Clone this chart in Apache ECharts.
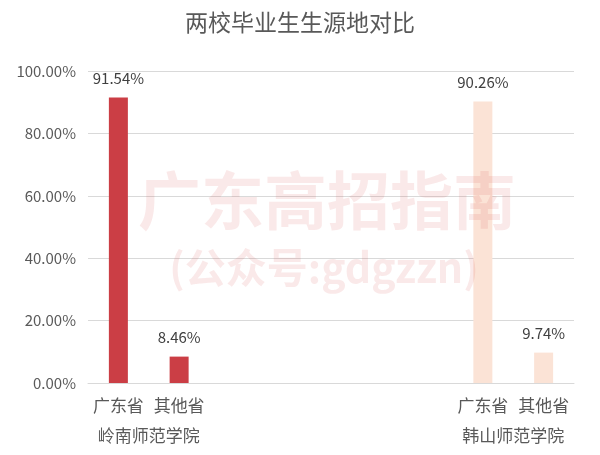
<!DOCTYPE html>
<html><head><meta charset="utf-8">
<script src="https://cdn.jsdelivr.net/npm/echarts@6/dist/echarts.min.js"></script>
<style>html,body{margin:0;padding:0;background:#fff}#c{width:600px;height:455px}</style>
</head><body><div id="c"></div>
<script>
const title = '两校毕业生生源地对比';
const categories = ['广东省', '其他省', '', '', '', '', '广东省', '其他省'];
const schools = ['岭南师范学院', '', '', '韩山师范学院'];
const lingnanValues = [91.54, 8.46, null, null, null, null, null, null];
const hanshanValues = [null, null, null, null, null, null, 90.26, 9.74];
const yTicks = [0, 20, 40, 60, 80, 100];
const watermark1 = '广东高招指南';
const watermark2 = '(公众号:gdgzzn)';

const font = '"Noto Sans CJK SC", "Noto Sans", sans-serif';
const chart = echarts.init(document.getElementById('c'));
const labelCfg = {
  show: true, position: 'top', distance: 12, color: '#404040', fontSize: 15, fontFamily: font,
  formatter: p => p.value == null ? '' : p.value.toFixed(2) + '%'
};
chart.setOption({
  animation: false,
  title: { text: title, left: 'center', top: 6, textStyle: { fontFamily: font, fontSize: 23, fontWeight: 'normal', color: '#595959' } },
  grid: { left: 88, right: 26, top: 71, bottom: 72 },
  xAxis: [
    { type: 'category', data: categories, axisLine: { lineStyle: { color: '#D9D9D9' } }, axisTick: { show: false },
      axisLabel: { interval: 0, color: '#595959', fontSize: 17, fontFamily: font, margin: 14 } },
    { type: 'category', data: schools, position: 'bottom', offset: 0, axisLine: { show: false }, axisTick: { show: false },
      axisLabel: { interval: 0, color: '#595959', fontSize: 17, fontFamily: font, margin: 44 } }
  ],
  yAxis: { type: 'value', min: yTicks[0], max: yTicks[yTicks.length - 1], interval: 20,
    axisLabel: { formatter: v => v.toFixed(2) + '%', color: '#595959', fontSize: 15, fontFamily: font, margin: 12 },
    splitLine: { lineStyle: { color: '#D9D9D9' } }, axisLine: { show: false }, axisTick: { show: false } },
  series: [
    { type: 'bar', name: '岭南师范学院', data: lingnanValues, barWidth: 19, barGap: '-100%', itemStyle: { color: '#CB3E45' }, label: labelCfg },
    { type: 'bar', name: '韩山师范学院', data: hanshanValues, barWidth: 19, itemStyle: { color: '#FBE3D6' }, label: labelCfg }
  ],
  graphic: [
    { type: 'text', x: 327, y: 200, z: 100, style: { text: watermark1, fontSize: 63, fontWeight: 'bold', fontFamily: font, align: 'center', verticalAlign: 'middle', fill: 'rgba(214,70,70,0.12)' } },
    { type: 'text', x: 324, y: 267, z: 100, style: { text: watermark2, fontSize: 41, fontWeight: 'bold', fontFamily: font, align: 'center', verticalAlign: 'middle', fill: 'rgba(214,70,70,0.12)' } }
  ]
});
</script></body></html>
